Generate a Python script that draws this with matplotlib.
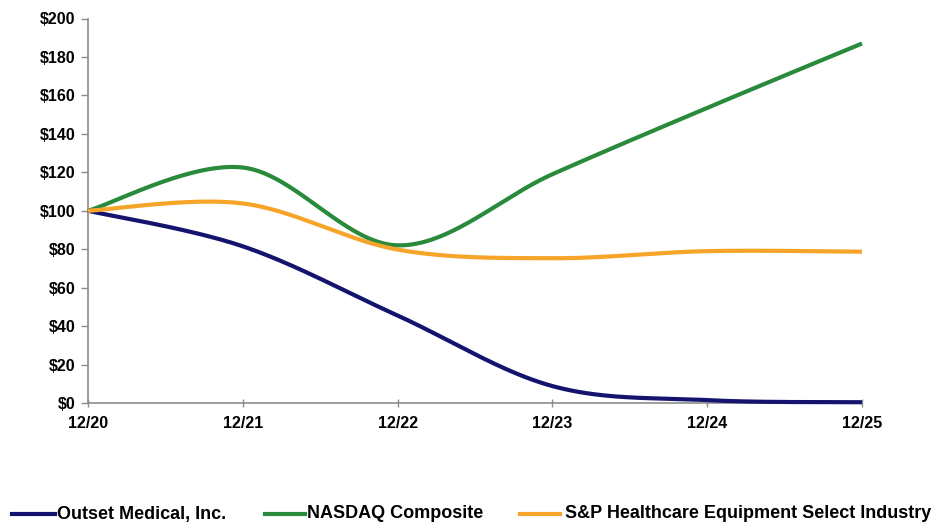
import numpy as np
import matplotlib
matplotlib.use("Agg")
import matplotlib.pyplot as plt
from matplotlib.lines import Line2D

periods = ["12/20", "12/21", "12/22", "12/23", "12/24", "12/25"]
outset = [100, 81.5, 45.5, 8.8, 1.5, 0.4]
nasdaq = [100, 122.5, 82.0, 119.0, 153.5, 187.0]
sp_hc = [100, 103.8, 79.8, 75.3, 79.0, 78.7]
series_names = ["Outset Medical, Inc.", "NASDAQ Composite",
                "S&P Healthcare Equipment Select Industry"]
yticks = [0, 20, 40, 60, 80, 100, 120, 140, 160, 180, 200]
ytick_labels = ["$%d" % v for v in yticks]

colors = ["#14146e", "#2a8a3c", "#f7a52a"]

plt.rcParams['font.family'] = ['Liberation Sans', 'DejaVu Sans']


def smooth(xs, ys, n=60):
    # Excel-style smoothed line (Catmull-Rom via cubic Bezier)
    P = np.column_stack([xs, ys]).astype(float)
    ext = np.vstack([P[0], P, P[-1]])
    out = []
    t = np.linspace(0, 1, n)[:, None]
    for i in range(len(P) - 1):
        p0, p1, p2, p3 = ext[i], ext[i + 1], ext[i + 2], ext[i + 3]
        b1 = p1 + (p2 - p0) / 6.0
        b2 = p2 - (p3 - p1) / 6.0
        seg = ((1 - t) ** 3) * p1 + 3 * ((1 - t) ** 2) * t * b1 + 3 * (1 - t) * t ** 2 * b2 + t ** 3 * p2
        out.append(seg if i == 0 else seg[1:])
    s = np.vstack(out)
    return s[:, 0], s[:, 1]


fig = plt.figure(figsize=(9.37, 5.22), dpi=100)
W, H = 937, 522
ax = fig.add_axes([88 / W, (H - 403) / H, (862 - 88) / W, (403 - 18.5) / H])

x = np.arange(len(periods))
for vals, c in zip([outset, nasdaq, sp_hc], colors):
    sx, sy = smooth(x, vals)
    ax.plot(sx, sy, color=c, lw=3.0, solid_capstyle='butt', clip_on=False, zorder=3)

ax.set_xlim(0, len(periods) - 1)
ax.set_ylim(0, 200)
ax.set_xticks(x)
ax.set_xticklabels(periods, fontsize=11.5, fontweight='bold')
ax.set_yticks(yticks)
ax.set_yticklabels(ytick_labels, fontsize=11.5, fontweight='bold')
for s in ['top', 'right']:
    ax.spines[s].set_visible(False)
for s in ['left', 'bottom']:
    ax.spines[s].set_color('#8c8c8c')
    ax.spines[s].set_linewidth(1.2)
ax.tick_params(axis='y', direction='out', length=5, color='#8c8c8c', width=1, pad=4)
ax.tick_params(axis='x', direction='inout', length=6, color='#8c8c8c', width=1, pad=6)

# legend row at bottom
leg_y = (H - 514) / H
items = [(12, 55, 57), (265, 305, 307), (520, 560, 565)]
for (x0, x1, tx), name, c in zip(items, series_names, colors):
    fig.add_artist(Line2D([x0 / W, x1 / W], [leg_y, leg_y], color=c, lw=3.0,
                          transform=fig.transFigure))
    fig.text(tx / W, leg_y, name, fontsize=13, fontweight='bold',
             va='center', ha='left')

fig.savefig("out.png", dpi=100)
